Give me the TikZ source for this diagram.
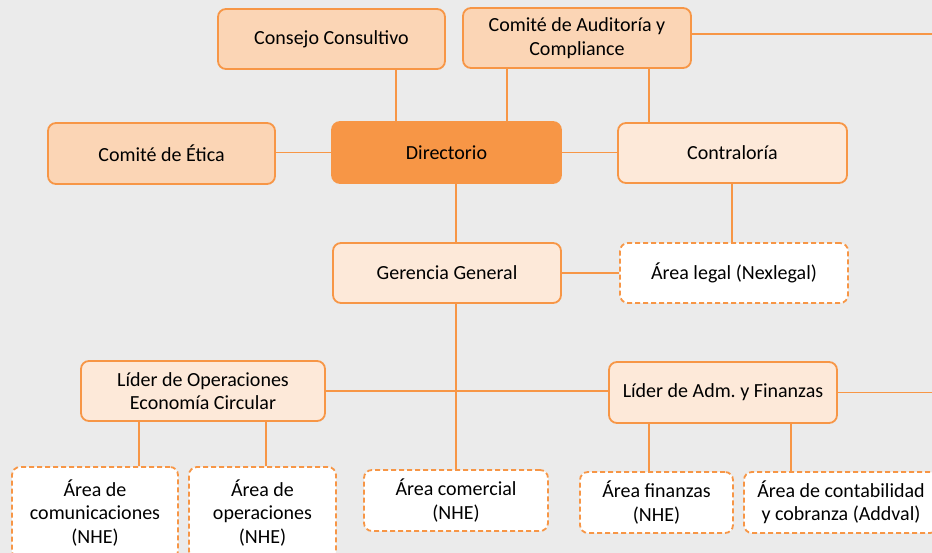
\documentclass[tikz,border=0pt]{standalone}
\usepackage{fontspec}
\setmainfont{Carlito}
\frenchspacing
\definecolor{bor}{HTML}{F79646}
\definecolor{fillmid}{HTML}{FBD5B5}
\definecolor{filllight}{HTML}{FDE9D9}
\definecolor{bg}{HTML}{EBEBEB}
\tikzset{
  box/.style={draw=bor, line width=1.8pt, rounded corners=8pt, align=center, inner sep=0pt,
    font=\fontsize{20}{23.5}\selectfont, text=black},
  midbox/.style={box, fill=fillmid},
  lightbox/.style={box, fill=filllight},
  topbox/.style={box, fill=bor},
  dashbox/.style={box, fill=white, dashed, dash pattern=on 5pt off 3pt},
  conn/.style={draw=bor, line width=1.5pt},
}
\begin{document}
\begin{tikzpicture}[x=1pt,y=-1pt]
\useasboundingbox (0,0) rectangle (932,553);
\fill[bg] (0,0) rectangle (932,553);
\clip (0,0) rectangle (932,553);

\node[midbox, minimum width=227pt, minimum height=60pt] (consejo) at (331.5,39) {Consejo Consultivo};
\node[midbox, minimum width=228pt, minimum height=60pt] (aud) at (577,38) {Comité de Auditoría y\\Compliance};
\node[midbox, minimum width=227pt, minimum height=61pt] (etica) at (161.5,153.5) {Comité de Ética};
\node[topbox, minimum width=229pt, minimum height=61pt] (dir) at (446.5,152.5) {Directorio};
\node[lightbox, minimum width=229pt, minimum height=60pt] (contra) at (732.5,153) {Contraloría};
\node[lightbox, minimum width=228pt, minimum height=60pt] (ger) at (447,273) {Gerencia General};
\node[dashbox, minimum width=228pt, minimum height=60pt] (legal) at (734,273) {Área legal (Nexlegal)};
\node[lightbox, minimum width=244pt, minimum height=60pt] (lop) at (203,391) {Líder de Operaciones\\Economía Circular};
\node[lightbox, minimum width=228pt, minimum height=61pt] (ladm) at (723,392.5) {Líder de Adm. y Finanzas};
\node[dashbox, minimum width=166pt, minimum height=92pt] (acom) at (95,513) {Área de\\comunicaciones\\(NHE)};
\node[dashbox, minimum width=147pt, minimum height=92pt] (aop) at (262.5,513) {Área de\\operaciones\\(NHE)};
\node[dashbox, minimum width=184pt, minimum height=61pt] (acomer) at (456,500.5) {Área comercial\\(NHE)};
\node[dashbox, minimum width=153pt, minimum height=61pt] (afin) at (656.5,502.5) {Área finanzas\\(NHE)};
\node[dashbox, minimum width=194pt, minimum height=61pt] (acont) at (841,502.5) {Área de contabilidad\\y cobranza (Addval)};

\coordinate (x396) at (396,0);
\coordinate (x507) at (507,0);
\coordinate (x649) at (649,0);
\coordinate (x456) at (456,0);
\coordinate (x732) at (732,0);
\coordinate (x139) at (139,0);
\coordinate (x266) at (266,0);
\coordinate (x791) at (791,0);
\coordinate (xR) at (940,0);

\draw[conn] (consejo.south -| x396) -- (dir.north -| x396);
\draw[conn] (aud.south -| x507) -- (dir.north -| x507);
\draw[conn] (aud.south -| x649) -- (contra.north -| x649);
\draw[conn] ([yshift=4pt]aud.east) -- ([yshift=4pt]aud.east -| xR);
\draw[conn] (dir.west -| etica.east) -- (dir.west);
\draw[conn] (dir.east) -- (dir.east -| contra.west);
\draw[conn] (dir.south -| x456) -- (ger.north -| x456);
\draw[conn] (contra.south -| x732) -- (legal.north -| x732);
\draw[conn] (ger.east) -- (ger.east -| legal.west);
\draw[conn] (ger.south -| x456) -- (acomer.north -| x456);
\draw[conn] (lop.east) -- (lop.east -| ladm.west);
\draw[conn] (ladm.east) -- (ladm.east -| xR);
\draw[conn] (lop.south -| x139) -- (acom.north -| x139);
\draw[conn] (lop.south -| x266) -- (aop.north -| x266);
\draw[conn] (ladm.south -| x649) -- (afin.north -| x649);
\draw[conn] (ladm.south -| x791) -- (acont.north -| x791);
\end{tikzpicture}
\end{document}
